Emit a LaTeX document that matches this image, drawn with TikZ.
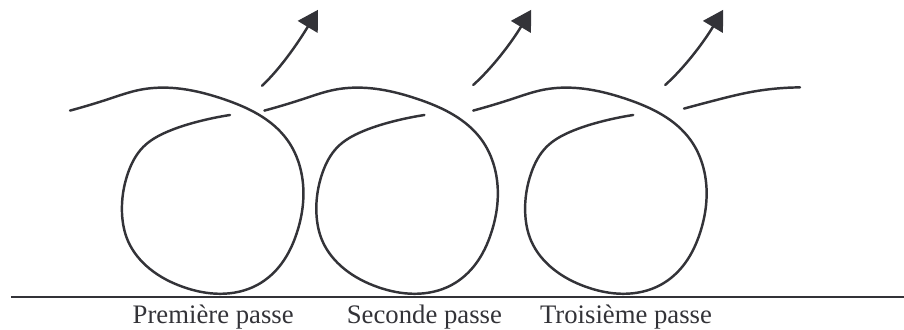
\documentclass[tikz,border=0pt]{standalone}
\usepackage{fontspec}
\setmainfont{Liberation Serif}
\usepackage{xcolor}
\usetikzlibrary{arrows.meta,hobby}
\definecolor{ink}{rgb}{0.2, 0.2, 0.22}
\tikzstyle{fil}=[line width=1.75pt,draw=ink,line cap=round,line join=round]
\tikzstyle{sortie}=[fil,-{Triangle[width=0.57cm,length=0.5cm]}]
\tikzstyle{passe}=[text=ink,font=\fontsize{19}{21}\selectfont,inner sep=0pt,anchor=base]

\begin{document}
\begin{tikzpicture}[use Hobby shortcut]
\useasboundingbox (0,0) rectangle (22.6,8.225);

\draw [fil] (1.75,5.46) .. (2.75,5.76) .. (3.5,5.98) .. (4.25,6.03) .. (5.58,5.75) .. (7.18,4.73) .. (7.5,4.05) .. (7.58,3.2) .. (7.42,2.4) .. (7.05,1.65) .. (6.43,1.1) .. (5.5,0.88) .. (4.58,1.05) .. (3.75,1.5) .. (3.2,2.2) .. (3.05,2.9) .. (3.2,3.9) .. (3.58,4.55) .. (4.18,4.93) .. (4.93,5.18) .. (5.75,5.35);
\draw [fil,xshift=4.86cm] (1.75,5.46) .. (2.75,5.76) .. (3.5,5.98) .. (4.25,6.03) .. (5.58,5.75) .. (7.18,4.73) .. (7.5,4.05) .. (7.58,3.2) .. (7.42,2.4) .. (7.05,1.65) .. (6.43,1.1) .. (5.5,0.88) .. (4.58,1.05) .. (3.75,1.5) .. (3.2,2.2) .. (3.05,2.9) .. (3.2,3.9) .. (3.58,4.55) .. (4.18,4.93) .. (4.93,5.18) .. (5.75,5.35);
\draw [fil,xshift=10.08cm] (1.75,5.46) .. (2.75,5.76) .. (3.5,5.98) .. (4.25,6.03) .. (5.58,5.75) .. (7.18,4.73) .. (7.5,4.05) .. (7.58,3.2) .. (7.42,2.4) .. (7.05,1.65) .. (6.43,1.1) .. (5.5,0.88) .. (4.58,1.05) .. (3.75,1.5) .. (3.2,2.2) .. (3.05,2.9) .. (3.2,3.9) .. (3.58,4.55) .. (4.18,4.93) .. (4.93,5.18) .. (5.75,5.35);

\draw [fil] (17.1,5.51) .. (17.93,5.73) .. (18.75,5.92) .. (20,6.04);

\coordinate (0a) at (6.55,6.08);
\coordinate (0b) at (7.95,7.98);
\coordinate (1a) at (11.83,6.1);
\coordinate (1b) at (13.28,7.98);
\coordinate (2a) at (16.63,6.1);
\coordinate (2b) at (18.08,7.98);

\draw [sortie] (0a) .. controls (7.0,6.5) and (7.45,7.15) .. (0b);
\draw [sortie] (1a) .. controls (12.3,6.52) and (12.78,7.15) .. (1b);
\draw [sortie] (2a) .. controls (17.1,6.52) and (17.58,7.15) .. (2b);

\coordinate (solg) at (0.275,0.81);
\coordinate (sold) at (22.6,0.81);
\draw [fil,line width=1.4pt,line cap=butt] (solg) -- (sold);

\node [passe] (p1) at (5.33,0.15) {Première passe};
\node [passe] (p2) at (10.61,0.15) {Seconde passe};
\node [passe] (p3) at (15.65,0.15) {Troisième passe};

\end{tikzpicture}
\end{document}
